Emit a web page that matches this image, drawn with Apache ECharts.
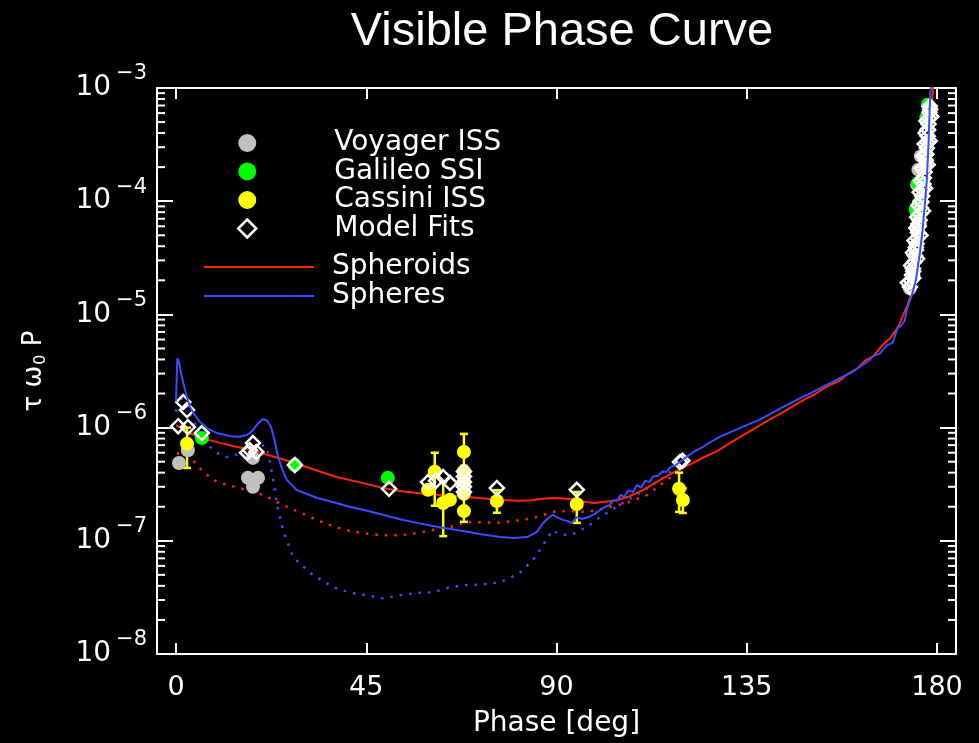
<!DOCTYPE html>
<html>
<head>
<meta charset="utf-8">
<script src="https://cdn.jsdelivr.net/npm/echarts@6/dist/echarts.min.js"></script>
<style>
  html, body { margin: 0; background: #000; }
  #chart { width: 979px; height: 743px; }
</style>
</head>
<body>
<div id="chart"></div>
<script>
const FONT = 'DejaVu Sans'
const RED = '#ff2600'
const BLUE = '#3a4cff'
const GRAY = '#c0c0c0'
const GREEN = '#00ff00'
const YELLOW = '#ffff00'

// model curves: phase [deg] and tau*w0*P
const phaseSpheroids = [0, 1, 3, 6, 10, 14, 18, 22, 26, 30,
  34, 38, 44, 49, 53, 57, 61, 65, 69, 73,
  77, 81, 84, 87, 89, 91, 94, 97, 99, 101,
  104, 107, 110, 113, 116, 119, 122, 125, 128, 131,
  134, 137, 140, 143, 146, 149, 151, 153, 155, 157,
  159, 161, 163, 165, 167, 169, 170, 171, 172, 173,
  174, 175, 176, 177, 178, 178.6, 179.2]
const spheroids = [1.05e-6, 1.0e-6, 9.0e-7, 8.1e-7, 7.4e-7, 6.8e-7, 6.3e-7, 5.7e-7, 5.15e-7, 4.6e-7,
  4.1e-7, 3.66e-7, 3.25e-7, 2.93e-7, 2.75e-7, 2.64e-7, 2.56e-7, 2.5e-7, 2.44e-7, 2.36e-7,
  2.29e-7, 2.26e-7, 2.28e-7, 2.35e-7, 2.39e-7, 2.38e-7, 2.33e-7, 2.2e-7, 2.16e-7, 2.2e-7,
  2.27e-7, 2.45e-7, 2.75e-7, 3.2e-7, 3.7e-7, 4.25e-7, 4.8e-7, 5.5e-7, 6.2e-7, 7.3e-7,
  8.5e-7, 9.9e-7, 1.15e-6, 1.33e-6, 1.55e-6, 1.8e-6, 1.95e-6, 2.2e-6, 2.4e-6, 2.6e-6,
  3.0e-6, 3.3e-6, 3.9e-6, 4.3e-6, 5.3e-6, 6.2e-6, 7.0e-6, 8.0e-6, 9.8e-6, 1.2e-5,
  1.55e-5, 2.2e-5, 3.6e-5, 7.5e-5, 2.0e-4, 5.0e-4, 1.3e-3]

const phaseSpheroidsDot = [0.2, 3.3, 6.4, 9.7, 15.1, 20.6, 25.3, 29, 33.3, 37,
  41.1, 45, 48.9, 53, 57, 61, 64.8, 68.8, 72, 76.6,
  80, 84.4, 87, 90.1, 93.9, 97.2, 101.9, 106.6, 111.4, 116.1, 119]
const spheroidsDot = [5.97e-7, 5.5e-7, 4.07e-7, 3.3e-7, 2.92e-7, 2.54e-7, 2.07e-7, 1.8e-7, 1.53e-7, 1.35e-7,
  1.22e-7, 1.16e-7, 1.12e-7, 1.12e-7, 1.17e-7, 1.25e-7, 1.32e-7, 1.47e-7, 1.46e-7, 1.44e-7,
  1.5e-7, 1.58e-7, 1.7e-7, 1.83e-7, 1.82e-7, 1.8e-7, 1.95e-7, 2.16e-7, 2.54e-7, 3.44e-7, 4.1e-7]

const phaseSpheres = [0, 0.3, 0.7, 1.2, 1.7, 2.5, 3.3, 4.5, 5.7, 7.5,
  9.7, 12.8, 15, 16.8, 18.2, 19.5, 20.6, 21.6, 22.5, 23.3,
  24, 25, 26.2, 28.6, 33.3, 37, 41.1, 45, 48.9, 53,
  57, 62.4, 67.9, 71.9, 76.6, 80, 83, 85.4, 86.8, 88,
  89.1, 90.3, 91.5, 92.5, 93.6, 94.8, 96, 97.9, 99, 100.3,
  101.5, 102.5, 103.5, 104.3, 105.2, 106, 107, 108.1, 109, 110,
  111, 112, 112.8, 114, 115, 116, 117, 118, 119.2, 121,
  123, 124.5, 126, 128.6, 132, 135, 138, 141, 145, 148,
  150, 153, 155, 158, 160, 162, 163.5, 165, 166.5, 168,
  169.5, 170.7, 171.5, 172.4, 173, 174, 175, 176, 176.6, 177.2,
  177.6, 178, 178.3, 178.6]
const spheres = [1.7e-6, 4.1e-6, 3.8e-6, 3.0e-6, 2.5e-6, 1.9e-6, 1.52e-6, 1.28e-6, 1.12e-6, 9.8e-7,
  8.95e-7, 8.4e-7, 8.3e-7, 8.6e-7, 9.5e-7, 1.1e-6, 1.19e-6, 1.15e-6, 1.0e-6, 7.8e-7,
  5.8e-7, 4.4e-7, 3.45e-7, 2.8e-7, 2.4e-7, 2.2e-7, 2.0e-7, 1.85e-7, 1.7e-7, 1.55e-7,
  1.44e-7, 1.32e-7, 1.22e-7, 1.15e-7, 1.08e-7, 1.06e-7, 1.08e-7, 1.2e-7, 1.43e-7, 1.58e-7,
  1.7e-7, 1.6e-7, 1.53e-7, 1.5e-7, 1.43e-7, 1.62e-7, 1.56e-7, 1.64e-7, 1.72e-7, 1.87e-7,
  2.0e-7, 2.05e-7, 2.3e-7, 2.25e-7, 2.55e-7, 2.45e-7, 2.8e-7, 2.7e-7, 3.1e-7, 2.95e-7,
  3.4e-7, 3.3e-7, 3.7e-7, 3.75e-7, 4.1e-7, 4.05e-7, 4.5e-7, 4.6e-7, 4.97e-7, 5.6e-7,
  6.3e-7, 6.7e-7, 7.3e-7, 8.3e-7, 9.4e-7, 1.05e-6, 1.17e-6, 1.35e-6, 1.62e-6, 1.85e-6,
  2.0e-6, 2.3e-6, 2.5e-6, 2.85e-6, 3.1e-6, 3.5e-6, 3.8e-6, 4.3e-6, 4.5e-6, 5.3e-6,
  5.6e-6, 7.6e-6, 7.9e-6, 8.9e-6, 1.15e-5, 1.45e-5, 2.0e-5, 3.6e-5, 5.6e-5, 1.0e-4,
  1.55e-4, 3.2e-4, 7.0e-4, 1.2e-3]

const phaseSpheresDot = [0, 0.5, 1.7, 4, 6, 8, 10, 12, 15.8, 19.9,
  21, 21.8, 23, 24, 25.3, 27.7, 31.7, 37.1, 41, 45.2,
  49, 53, 57, 60.8, 64.8, 68.8, 72, 76.6, 79, 81.3,
  83, 84.4, 86.1, 88, 89.1, 90.5, 91.5, 93.9, 97.2, 100.3,
  104.3, 108.1, 112.8, 116, 119]
const spheresDot = [1.38e-6, 1.9e-6, 1.75e-6, 1.17e-6, 8.5e-7, 6.8e-7, 5.9e-7, 5.5e-7, 5.95e-7, 6.8e-7,
  7.0e-7, 6.0e-7, 3.45e-7, 2.0e-7, 1.25e-7, 7.2e-8, 5.2e-8, 3.9e-8, 3.5e-8, 3.3e-8,
  3.1e-8, 3.3e-8, 3.47e-8, 3.5e-8, 3.9e-8, 4.07e-8, 4.1e-8, 4.3e-8, 4.7e-8, 5.2e-8,
  6.0e-8, 6.75e-8, 8.3e-8, 1.08e-7, 1.24e-7, 1.15e-7, 1.12e-7, 1.15e-7, 1.32e-7, 1.62e-7,
  2.0e-7, 2.44e-7, 3.1e-7, 3.8e-7, 4.6e-7]

// observations
const voyagerPhase = [0.7, 2.8, 18.2, 17.0, 19.4, 18.2, 173.6, 174.2, 174.8, 175.3, 175.5, 175.6, 176.2, 177.3]
const voyagerVal = [4.86e-7, 6.3e-7, 5.4e-7, 3.6e-7, 3.6e-7, 3.0e-7, 1.7e-5, 2.2e-5, 3.3e-5, 1.4e-4, 5.5e-5, 1.9e-4, 2.5e-4, 2.2e-4]

const galileoPhase = [6.1, 28.1, 50.1, 175.0, 175.2, 175.5, 175.7, 177.5, 177.8, 178.3]
const galileoVal = [8.1e-7, 4.68e-7, 3.6e-7, 8.5e-5, 7.9e-5, 1.45e-4, 9.6e-5, 5.5e-4, 7.1e-4, 6.5e-4]

const cassiniPhase = [2.6, 59.6, 61.2, 63.2, 64.8, 68.1, 68.1, 68.1, 68.1, 68.1, 75.9, 94.8, 119.0, 119.9]
const cassiniVal = [7.2e-7, 2.82e-7, 4.07e-7, 2.16e-7, 2.3e-7, 6.1e-7, 4.1e-7, 3.3e-7, 2.6e-7, 1.83e-7, 2.25e-7, 2.11e-7, 2.88e-7, 2.29e-7]
const cassiniLo = [4.4e-7, null, 2.04e-7, 1.1e-7, null, 4.6e-7, null, null, null, 1.47e-7, 1.77e-7, 1.44e-7, 1.8e-7, 1.76e-7]
const cassiniHi = [1.0e-6, null, 6.0e-7, 3.3e-7, null, 8.8e-7, null, null, null, 2.6e-7, 2.8e-7, 2.7e-7, 4.0e-7, 2.9e-7]

const modelPhase = [0.5, 1.7, 2.6, 2.8, 6.1, 16.8, 17.5, 18.2, 19.0, 28.1,
  50.4, 59.6, 61.5, 63.2, 64.8, 68.1, 68.1, 68.1, 68.1, 68.1,
  75.9, 94.8, 119.2, 119.8,
  173.6, 173.8, 174.1, 174.3, 174.6, 174.8, 175.0, 175.2, 175.4, 175.5,
  175.7, 175.9, 176.0, 176.2, 176.3, 176.5, 176.6, 176.8, 176.9, 177.1,
  177.2, 177.4, 177.5, 177.6, 177.7, 177.8, 177.9, 178.0, 178.1, 178.2, 178.3,
  174.4, 175.0, 175.6, 176.2, 176.8, 177.3, 177.8, 178.4,
  173.1, 173.9, 174.3, 174.7, 175.1, 175.3, 175.6, 175.9, 176.2, 176.5, 176.8, 177.1, 177.3, 177.5,
  174.4, 175.3, 176.1, 176.7, 177.2, 177.8, 178.3, 178.7]
const modelVal = [1.03e-6, 1.68e-6, 1.43e-6, 1.01e-6, 8.95e-7, 6.0e-7, 6.3e-7, 7.3e-7, 6.1e-7, 4.68e-7,
  2.88e-7, 3.3e-7, 3.4e-7, 3.66e-7, 3.24e-7, 4.1e-7, 3.7e-7, 3.3e-7, 3.0e-7, 2.7e-7,
  2.92e-7, 2.82e-7, 4.97e-7, 5.1e-7,
  1.75e-5, 1.98e-5, 2.23e-5, 2.55e-5, 2.9e-5, 3.3e-5, 3.7e-5, 4.2e-5, 4.7e-5, 5.3e-5,
  6.0e-5, 6.8e-5, 7.7e-5, 8.7e-5, 9.8e-5, 1.11e-4, 1.26e-4, 1.42e-4, 1.6e-4, 1.81e-4,
  2.05e-4, 2.3e-4, 2.6e-4, 2.95e-4, 3.3e-4, 3.75e-4, 4.25e-4, 4.8e-4, 5.4e-4, 6.1e-4, 6.9e-4,
  2.4e-5, 3.9e-5, 6.3e-5, 1.0e-4, 1.6e-4, 2.6e-4, 4.3e-4, 6.5e-4,
  1.9e-5, 2.7e-5, 3.5e-5, 4.5e-5, 5.8e-5, 7.2e-5, 9.2e-5, 1.2e-4, 1.5e-4, 1.95e-4, 2.5e-4, 3.2e-4, 4.0e-4, 5.1e-4,
  2.1e-5, 3.1e-5, 5.0e-5, 8.2e-5, 1.3e-4, 2.1e-4, 3.4e-4, 5.6e-4]

// axes
const xTicks = [0, 45, 90, 135, 180]
const yMinorMult = [2, 3, 4, 5, 6, 7, 8, 9]
const yDecades = [1e-8, 1e-7, 1e-6, 1e-5, 1e-4]

const zip = (xs, ys) => xs.map((x, i) => [x, ys[i]])
const minorTicks = yDecades.flatMap(d => yMinorMult.map(m => [0, m * d]))
const errBars = cassiniPhase.map((x, i) => [x, cassiniLo[i], cassiniHi[i]]).filter(d => d[1] !== null)

const txt = { color: '#fff', fontFamily: FONT }

const chart = echarts.init(document.getElementById('chart'))

const xBase = {
  type: 'value', min: -4.5, max: 184.5,
  axisLine: { show: true, onZero: false, lineStyle: { color: '#fff', width: 2 } },
  axisTick: { show: true, inside: true, length: 11, customValues: xTicks, lineStyle: { color: '#fff', width: 2 } },
  splitLine: { show: false }
}
const yBase = {
  type: 'log', logBase: 10, min: 1e-8, max: 1e-3,
  axisLine: { show: true, onZero: false, lineStyle: { color: '#fff', width: 2 } },
  axisTick: { show: true, inside: true, length: 16, lineStyle: { color: '#fff', width: 2 } },
  splitLine: { show: false }
}

chart.setOption({
  backgroundColor: '#000',
  animation: false,
  title: {
    text: 'Visible Phase Curve', left: 557, top: 4, textAlign: 'center',
    textStyle: { color: '#fff', fontFamily: 'Liberation Sans', fontWeight: 'normal', fontSize: 47 }
  },
  grid: { left: 157, right: 23, top: 88, bottom: 89 },
  legend: [{
    orient: 'vertical', left: 232, top: 124,
    itemWidth: 18, itemHeight: 18, itemGap: 0.5,
    textStyle: { ...txt, fontSize: 28, lineHeight: 28, padding: [0, 0, 0, 73] },
    data: ['Voyager ISS', 'Galileo SSI', 'Cassini ISS',
      { name: 'Model Fits', icon: 'diamond', itemStyle: { color: 'rgba(0,0,0,0)', borderColor: '#fff', borderWidth: 2.5 } }]
  }, {
    orient: 'vertical', left: 198, top: 248,
    itemWidth: 110, itemHeight: 14, itemGap: 1,
    itemStyle: { opacity: 0 },
    textStyle: { ...txt, fontSize: 28, lineHeight: 28, padding: [0, 0, 0, 13] },
    data: ['Spheroids', 'Spheres']
  }],
  xAxis: [{
    ...xBase, position: 'bottom',
    name: 'Phase [deg]', nameLocation: 'middle', nameGap: 56,
    nameTextStyle: { ...txt, fontSize: 28 },
    axisLabel: { ...txt, fontSize: 27, margin: 20, customValues: xTicks }
  }, {
    ...xBase, position: 'top', axisLabel: { show: false }
  }],
  yAxis: [{
    ...yBase, position: 'left',
    name: '{a|τ ω}{sub|0}{a| P}', nameLocation: 'middle', nameGap: 108,
    nameTextStyle: {
      ...txt, fontSize: 26,
      rich: {
        a: { ...txt, fontSize: 26 },
        sub: { ...txt, fontSize: 16, padding: [14, 0, 0, 1] }
      }
    },
    axisLabel: {
      ...txt, margin: 10,
      formatter: v => '{b|10}{s|−' + (-Math.round(Math.log10(v))) + '}',
      rich: {
        b: { ...txt, fontSize: 28, lineHeight: 28 },
        s: { ...txt, fontSize: 21, lineHeight: 21, padding: [0, 0, 28, 5] }
      }
    }
  }, {
    ...yBase, position: 'right', axisLabel: { show: false }
  }],
  series: [
    {
      name: 'minor ticks', type: 'custom', silent: true, data: minorTicks,
      encode: { x: 0, y: 1 },
      renderItem: (params, api) => {
        const cs = params.coordSys
        const y = api.coord([0, api.value(1)])[1]
        const st = { stroke: '#fff', lineWidth: 2 }
        return {
          type: 'group', children: [
            { type: 'line', shape: { x1: cs.x, y1: y, x2: cs.x + 8, y2: y }, style: st },
            { type: 'line', shape: { x1: cs.x + cs.width - 8, y1: y, x2: cs.x + cs.width, y2: y }, style: st }
          ]
        }
      }
    },
    {
      name: 'Spheroids (dotted)', type: 'line', data: zip(phaseSpheroidsDot, spheroidsDot),
      showSymbol: false, symbol: 'none', lineStyle: { color: RED, width: 2.5, type: [2.5, 7] }, z: 2
    },
    {
      name: 'Spheres (dotted)', type: 'line', data: zip(phaseSpheresDot, spheresDot),
      showSymbol: false, symbol: 'none', lineStyle: { color: BLUE, width: 2.5, type: [2.5, 7] }, z: 2
    },
    {
      name: 'Spheroids', type: 'line', data: zip(phaseSpheroids, spheroids),
      showSymbol: false, symbol: 'none', color: RED, lineStyle: { color: RED, width: 2 }, z: 2
    },
    {
      name: 'Voyager ISS', type: 'scatter', data: zip(voyagerPhase, voyagerVal),
      symbol: 'circle', symbolSize: 14, itemStyle: { color: GRAY, opacity: 1 }, z: 3
    },
    {
      name: 'Galileo SSI', type: 'scatter', data: zip(galileoPhase, galileoVal),
      symbol: 'circle', symbolSize: 14, itemStyle: { color: GREEN, opacity: 1 }, z: 3
    },
    {
      name: 'Cassini ISS err', type: 'custom', silent: true, data: errBars,
      encode: { x: 0, y: [1, 2] }, z: 3,
      renderItem: (params, api) => {
        const x = api.value(0)
        const lo = api.coord([x, api.value(1)])
        const hi = api.coord([x, api.value(2)])
        const st = { stroke: YELLOW, lineWidth: 2.5 }
        return {
          type: 'group', children: [
            { type: 'line', shape: { x1: lo[0], y1: lo[1], x2: hi[0], y2: hi[1] }, style: st },
            { type: 'line', shape: { x1: lo[0] - 4, y1: lo[1], x2: lo[0] + 4, y2: lo[1] }, style: st },
            { type: 'line', shape: { x1: hi[0] - 4, y1: hi[1], x2: hi[0] + 4, y2: hi[1] }, style: st }
          ]
        }
      }
    },
    {
      name: 'Cassini ISS', type: 'scatter', data: zip(cassiniPhase, cassiniVal),
      symbol: 'circle', symbolSize: 14, itemStyle: { color: YELLOW, opacity: 1 }, z: 3
    },
    {
      name: 'Model Fits', type: 'scatter', data: zip(modelPhase, modelVal),
      symbol: 'diamond', symbolSize: 14,
      itemStyle: { color: 'rgba(0,0,0,0)', borderColor: '#fff', borderWidth: 2.5, opacity: 1 }, z: 4
    },
    {
      name: 'Spheres', type: 'line', data: zip(phaseSpheres, spheres),
      showSymbol: false, symbol: 'none', color: BLUE, lineStyle: { color: BLUE, width: 2 }, z: 5
    }
  ]
})
</script>
</body>
</html>
